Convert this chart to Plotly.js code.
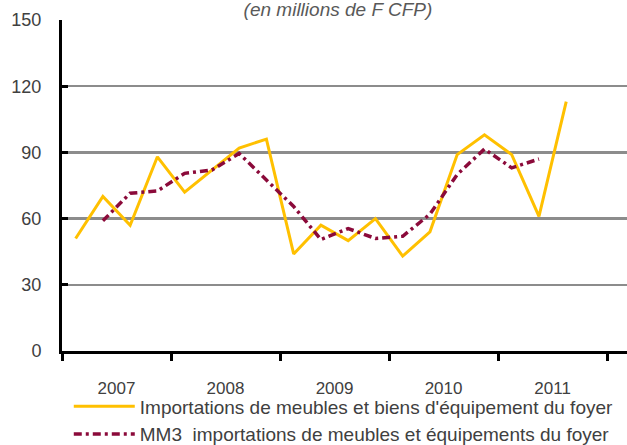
<!DOCTYPE html>
<html>
<head>
<meta charset="utf-8">
<script src="https://cdn.plot.ly/plotly-3.0.1.min.js"></script>
<style>html,body{margin:0;padding:0;background:#fff;}#chart{width:627px;height:445px;}</style>
</head>
<body>
<div id="chart"></div>
<script>
// Quarter index 0 = 2007 T1 ... 18 = 2011 T3
var quarters = [0,1,2,3,4,5,6,7,8,9,10,11,12,13,14,15,16,17,18];
var imports = [51,70,57,88,72,82,92,96,44,57,50,60,43,54,89,98,89,61,113];
var mm3 = [null,59,71.5,72.5,80.5,82,89.5,77.5,65.5,50.5,55.5,51,52,62,80,91.5,83,87,null];
var yearLabels = ['2007','2008','2009','2010','2011'];
var yearCenters = [1.5,5.5,9.5,13.5,17.5];
var yTicks = [0,30,60,90,120,150];

var traces = [
  {x: quarters, y: imports, type: 'scatter', mode: 'lines',
   name: "Importations de meubles et biens d'équipement du foyer",
   line: {color: '#FFC000', width: 3}, hoverinfo: 'skip'},
  {x: quarters, y: mm3, type: 'scatter', mode: 'lines',
   name: 'MM3  importations de meubles et équipements du foyer',
   line: {color: '#8B0A3A', width: 3.5, dash: '8px,4px,3px,4px'},
   connectgaps: false, hoverinfo: 'skip'}
];

var layout = {
  width: 627, height: 445,
  margin: {l: 62, r: 0, t: 20, b: 94, autoexpand: false},
  paper_bgcolor: '#fff', plot_bgcolor: '#fff',
  showlegend: true,
  font: {family: 'Liberation Sans, Arial, sans-serif', color: '#404040'},
  title: {text: '<i>(en millions de F CFP)</i>', x: 0.539, xanchor: 'center',
          y: 0.978, yanchor: 'middle', font: {size: 19, color: '#595959', family: 'Liberation Sans, Arial, sans-serif'}},
  xaxis: {
    range: [-0.5, 20.23], tickmode: 'array', tickvals: yearCenters, ticktext: yearLabels,
    ticks: '', showgrid: false, zeroline: false, automargin: false,
    showline: true, linecolor: '#000', linewidth: 3,
    tickfont: {size: 17, color: '#404040', family: 'Liberation Sans, Arial, sans-serif'},
    ticklabelstandoff: 20,
    minor: {tickmode: 'linear', tick0: -0.5, dtick: 4, ticks: 'outside', ticklen: 7, tickwidth: 3, tickcolor: '#000', showgrid: false}
  },
  yaxis: {
    range: [0, 150], tickmode: 'array', tickvals: yTicks, automargin: false,
    ticks: 'inside', ticklen: 6, tickwidth: 3, tickcolor: '#000',
    showline: true, linecolor: '#000', linewidth: 3,
    showgrid: true, gridcolor: '#8c8c8c', gridwidth: 2.5, zeroline: false,
    tickfont: {size: 18, color: '#404040', family: 'Liberation Sans, Arial, sans-serif'},
    ticklabelstandoff: 14
  },
  legend: {orientation: 'v', x: 0.012, xanchor: 'left', y: -0.11, yanchor: 'top',
           itemwidth: 61,
           font: {size: 19, color: '#404040', family: 'Liberation Sans, Arial, sans-serif'},
           bgcolor: 'rgba(0,0,0,0)', tracegroupgap: 0}
};

Plotly.newPlot('chart', traces, layout, {displayModeBar: false, staticPlot: true});
</script>
</body>
</html>
